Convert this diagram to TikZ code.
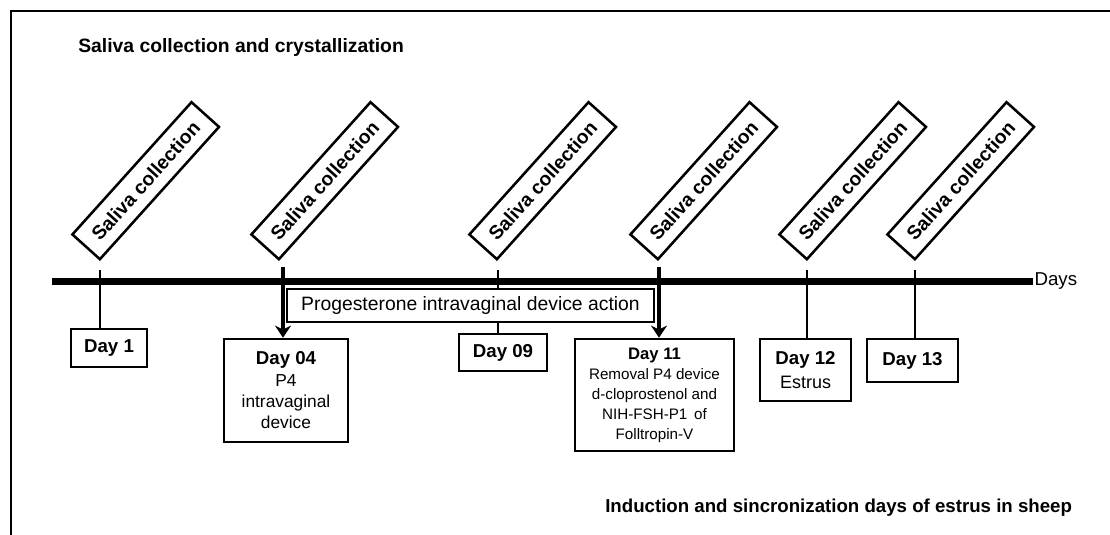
\documentclass[tikz,border=0pt]{standalone}
\usepackage{fontspec}
\setmainfont{Liberation Sans}
\usetikzlibrary{arrows.meta}

\tikzset{
	daybox/.style={draw, line width=2pt, fill=white, align=center, inner sep=0pt},
	salivabox/.style={draw, line width=1.9pt, rotate=48, anchor=south west,
		minimum width=133.5pt, minimum height=27.75pt, inner sep=0pt,
		font=\fontsize{14.5}{17}\selectfont\bfseries},
	tickline/.style={line width=1pt},
	devicearrow/.style={line width=3pt, -{Stealth[length=9pt,width=12pt]}},
	heading/.style={anchor=west, inner sep=0pt, font=\fontsize{14.5}{17}\selectfont\bfseries}
}
\newcommand{\daytitle}[1]{{\fontsize{14}{16}\selectfont\bfseries #1}}

\begin{document}
\begin{tikzpicture}[x=0.75pt, y=-0.75pt]
	\useasboundingbox (0,0) rectangle (1110,535);
	% frame
	\draw[line width=2.2pt] (11,545) |- (1120,11);
	\node[heading] (title) at (78,48) {Saliva collection and crystallization};
	\node[heading, font=\fontsize{14}{17}\selectfont\bfseries] (caption) at (605,508)
		{Induction and sincronization days of estrus in sheep};

	% time axis
	\coordinate (axisl) at (52,281.5);
	\coordinate (axisr) at (1033,281.5);
	\draw[line width=5.25pt] (axisl) -- (axisr);
	\node[anchor=west, inner sep=1pt, font=\fontsize{14}{17}\selectfont] (days) at (axisr) {Days};

	% saliva collections
	\node[salivabox] (s1) at (100,261) {Saliva collection};
	\node[salivabox] (s2) at (279,261) {Saliva collection};
	\node[salivabox] (s3) at (497,261) {Saliva collection};
	\node[salivabox] (s4) at (658,261) {Saliva collection};
	\node[salivabox] (s5) at (807,261) {Saliva collection};
	\node[salivabox] (s6) at (915,261) {Saliva collection};

	% days
	\node[daybox, minimum width=57pt, minimum height=28.5pt] (d1) at (109,348) {\daytitle{Day 1}};
	\node[daybox, minimum width=93pt, minimum height=77.25pt,
		font=\fontsize{13}{16}\selectfont] (d4) at (286,390.5)
		{\daytitle{Day 04}\\P4\\intravaginal\\device};
	\node[daybox, minimum width=66pt, minimum height=27.75pt] (d9) at (503,352.5) {\daytitle{Day 09}};
	\node[daybox, minimum width=119.25pt, minimum height=84pt,
		font=\fontsize{11.4}{15}\selectfont] (d11) at (654.5,395)
		{{\fontsize{12.5}{15}\selectfont\bfseries Day 11}\\Removal P4 device\\d-cloprostenol and\\NIH-FSH-P1 \,of\\Folltropin-V};
	\node[daybox, minimum width=68.25pt, minimum height=46.5pt,
		font=\fontsize{13.5}{18}\selectfont] (d12) at (805.5,370)
		{\daytitle{Day 12}\\Estrus};
	\node[daybox, minimum width=68.25pt, minimum height=32.25pt] (d13) at (912.5,360.5) {\daytitle{Day 13}};

	% ticks
	\coordinate (k1) at (100,270);
	\coordinate (k9) at (498,270);
	\coordinate (k12) at (807,270);
	\coordinate (k13) at (915,270);
	\draw[tickline] (k1) -- (k1 |- d1.north);
	\draw[tickline] (k9) -- (k9 |- d9.north);
	\draw[tickline] (k12) -- (k12 |- d12.north);
	\draw[tickline] (k13) -- (k13 |- d13.north);

	% device in and out
	\coordinate (a4) at (283,267);
	\coordinate (a11) at (659,267);
	\draw[devicearrow] (a4) -- (a4 |- d4.north);
	\draw[devicearrow] (a11) -- (a11 |- d11.north);
	\node[daybox, minimum width=275.25pt, minimum height=24.75pt,
		font=\fontsize{14.5}{17}\selectfont] (action) at (470.5,305.5)
		{Progesterone intravaginal device action};
\end{tikzpicture}
\end{document}
